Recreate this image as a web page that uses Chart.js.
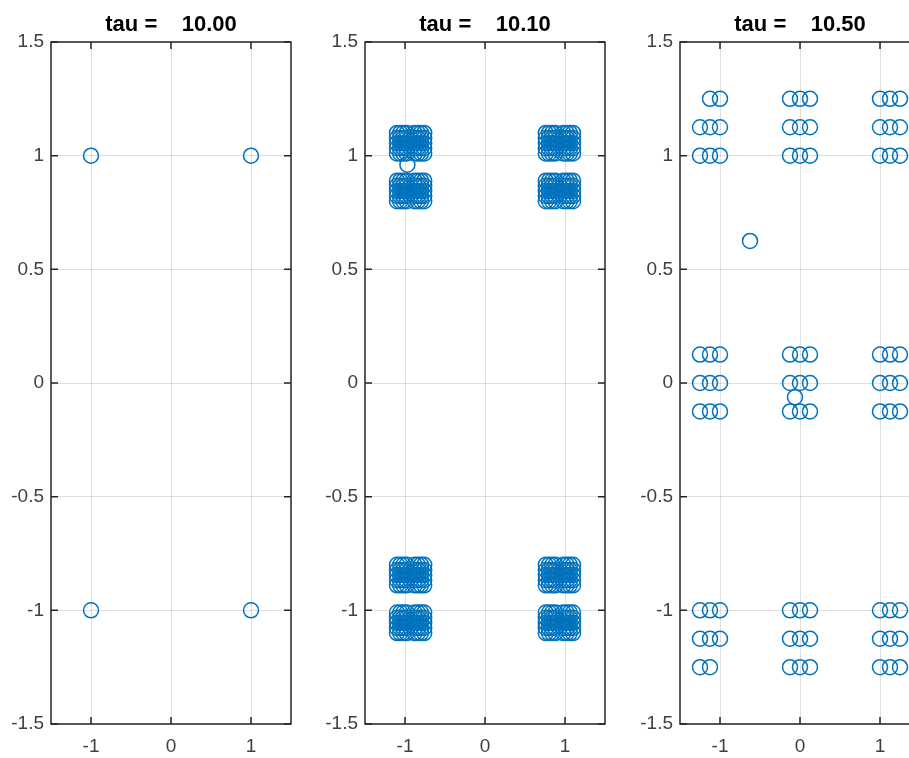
<!DOCTYPE html>
<html>
<head>
<meta charset="utf-8">
<script src="https://cdn.jsdelivr.net/npm/chart.js@4.4.0/dist/chart.umd.min.js"></script>
<style>
  html, body { margin: 0; padding: 0; background: #fff; overflow: hidden; width: 909px; height: 758px; }
  .panel { position: absolute; top: 0; width: 310px; height: 758px; }
</style>
</head>
<body>
<div class="panel" style="left:0px"><canvas id="c1"></canvas></div>
<div class="panel" style="left:314px"><canvas id="c2"></canvas></div>
<div class="panel" style="left:629px"><canvas id="c3"></canvas></div>
<script>
var titles = ["tau =    10.00", "tau =    10.10", "tau =    10.50"];
var xTicks = [-1, 0, 1];
var xTickLabels = ["-1", "0", "1"];
var yTicks = [-1.5, -1, -0.5, 0, 0.5, 1, 1.5];
var yTickLabels = ["-1.5", "-1", "-0.5", "0", "0.5", "1", "1.5"];

// tau = 10.00
var p1X = [-1, 1, -1, 1];
var p1Y = [1, 1, -1, -1];

// tau = 10.10 : every corner is two dense blocks of overlapping circles
var p2XLevels = [-1.1, -1.06, -1.02, -0.98, -0.88, -0.84, -0.8, -0.76,
                 0.76, 0.8, 0.84, 0.88, 0.98, 1.02, 1.06, 1.1];
var p2YLevels = [-1.1, -1.0775, -1.055, -1.0325, -1.01,
                 -0.89, -0.8675, -0.845, -0.8225, -0.8,
                 0.8, 0.8225, 0.845, 0.8675, 0.89,
                 1.01, 1.0325, 1.055, 1.0775, 1.1];
var p2ExtraX = [-0.97];
var p2ExtraY = [0.96];

// tau = 10.50 : rows of circles
var p3RowY = [1.25, 1.125, 1, 0.125, 0, -0.125, -1, -1.125, -1.25];
var p3RowX = [
  [-1.125, -1, -0.125, 0, 0.125, 1, 1.125, 1.25],
  [-1.25, -1.125, -1, -0.125, 0, 0.125, 1, 1.125, 1.25],
  [-1.25, -1.125, -1, -0.125, 0, 0.125, 1, 1.125, 1.25],
  [-1.25, -1.125, -1, -0.125, 0, 0.125, 1, 1.125, 1.25],
  [-1.25, -1.125, -1, -0.125, 0, 0.125, 1, 1.125, 1.25],
  [-1.25, -1.125, -1, -0.125, 0, 0.125, 1, 1.125, 1.25],
  [-1.25, -1.125, -1, -0.125, 0, 0.125, 1, 1.125, 1.25],
  [-1.25, -1.125, -1, -0.125, 0, 0.125, 1, 1.125, 1.25],
  [-1.25, -1.125, -0.125, 0, 0.125, 1, 1.125, 1.25]
];
var p3ExtraX = [-0.625, -0.0625];
var p3ExtraY = [0.625, -0.0625];

var axisColor = "#262626";
var labelColor = "#404040";
var gridColor = "rgba(38,38,38,0.15)";
var markerColor = "#0072BD";
var fontFamily = "'Liberation Sans', Arial, Helvetica, sans-serif";

function toPoints(xs, ys) {
  return xs.map(function(x, i) { return { x: x, y: ys[i] }; });
}

var p1 = toPoints(p1X, p1Y);

var p2 = [];
p2XLevels.forEach(function(x) {
  p2YLevels.forEach(function(y) { p2.push({ x: x, y: y }); });
});
p2 = p2.concat(toPoints(p2ExtraX, p2ExtraY));

var p3 = [];
p3RowY.forEach(function(y, r) {
  p3RowX[r].forEach(function(x) { p3.push({ x: x, y: y }); });
});
p3 = p3.concat(toPoints(p3ExtraX, p3ExtraY));

// box round the axes with inward tick marks, like the original
var boxPlugin = {
  id: "box",
  beforeDatasetsDraw: function(chart) {
    var ctx = chart.ctx, a = chart.chartArea;
    var xs = chart.scales.x, ys = chart.scales.y;
    var len = 7;
    ctx.save();
    ctx.strokeStyle = axisColor;
    ctx.lineWidth = 1.5;
    ctx.strokeRect(a.left, a.top, a.right - a.left, a.bottom - a.top);
    ctx.beginPath();
    xs.ticks.forEach(function(t) {
      var px = xs.getPixelForValue(t.value);
      ctx.moveTo(px, a.bottom); ctx.lineTo(px, a.bottom - len);
      ctx.moveTo(px, a.top); ctx.lineTo(px, a.top + len);
    });
    ys.ticks.forEach(function(t) {
      var py = ys.getPixelForValue(t.value);
      ctx.moveTo(a.left, py); ctx.lineTo(a.left + len, py);
      ctx.moveTo(a.right, py); ctx.lineTo(a.right - len, py);
    });
    ctx.stroke();
    ctx.restore();
  }
};

function makeChart(id, title, points) {
  return new Chart(document.getElementById(id).getContext("2d"), {
    type: "scatter",
    data: {
      datasets: [{
        data: points,
        pointStyle: "circle",
        pointRadius: 7.5,
        pointHoverRadius: 7.5,
        borderWidth: 1.5,
        borderColor: markerColor,
        backgroundColor: "rgba(0,0,0,0)"
      }]
    },
    options: {
      responsive: true,
      maintainAspectRatio: false,
      animation: false,
      events: [],
      layout: { padding: { left: 0, right: 19, top: 0, bottom: 0 } },
      scales: {
        x: {
          type: "linear",
          min: -1.5,
          max: 1.5,
          afterBuildTicks: function(s) { s.ticks = xTicks.map(function(v) { return { value: v }; }); },
          afterFit: function(s) { s.height = 34; },
          grid: { color: gridColor, lineWidth: 1, drawTicks: false },
          border: { display: false },
          ticks: {
            padding: 11,
            color: labelColor,
            font: { family: fontFamily, size: 19 },
            callback: function(v, i) { return xTickLabels[i]; }
          }
        },
        y: {
          type: "linear",
          min: -1.5,
          max: 1.5,
          afterBuildTicks: function(s) { s.ticks = yTicks.map(function(v) { return { value: v }; }); },
          afterFit: function(s) { s.width = 51; },
          grid: { color: gridColor, lineWidth: 1, drawTicks: false },
          border: { display: false },
          ticks: {
            padding: 7,
            color: labelColor,
            font: { family: fontFamily, size: 19 },
            callback: function(v, i) { return yTickLabels[i]; }
          }
        }
      },
      plugins: {
        legend: { display: false },
        tooltip: { enabled: false },
        title: {
          display: true,
          text: title,
          fullSize: false,
          color: "#000",
          font: { family: fontFamily, size: 22, weight: "bold" },
          padding: { top: 12, bottom: 3.6 }
        }
      }
    },
    plugins: [boxPlugin]
  });
}

makeChart("c1", titles[0], p1);
makeChart("c2", titles[1], p2);
makeChart("c3", titles[2], p3);
</script>
</body>
</html>
